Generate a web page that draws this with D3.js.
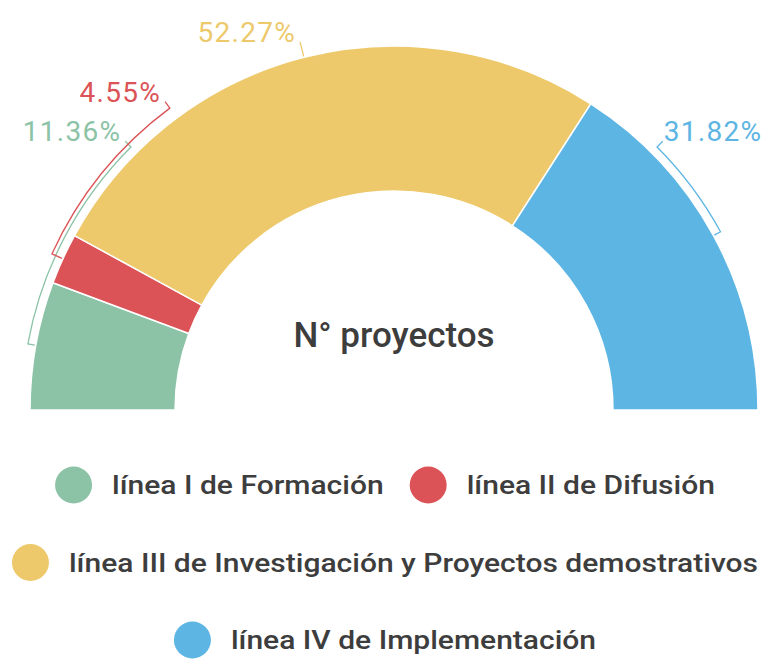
<!DOCTYPE html>
<html>
<head>
<meta charset="utf-8">
<script src="https://cdn.jsdelivr.net/npm/d3@7"></script>
<style>
  body { margin: 0; background: #fff; }
  svg { display: block; font-family: Roboto, "Noto Sans", sans-serif; }
</style>
</head>
<body>
<div id="chart"></div>
<script>
const categories = [
  'línea I de Formación',
  'línea II de Difusión',
  'línea III de Investigación y Proyectos demostrativos',
  'línea IV de Implementación'
];
const proyectos = [5, 2, 23, 14];
const colors = ['#8cc3a6', '#db5356', '#edc96b', '#5db5e3'];
const centerTitle = 'N° proyectos';

const width = 776, height = 659;
const cx = 394, cy = 410;
const outerR = 364, innerR = 219;

const svg = d3.select('#chart').append('svg')
  .attr('width', width)
  .attr('height', height);

const total = d3.sum(proyectos);
const data = categories.map((c, i) => ({ name: c, value: proyectos[i], color: colors[i] }));

const pie = d3.pie().value(d => d.value).sort(null)
  .startAngle(-Math.PI / 2).endAngle(Math.PI / 2);
const arc = d3.arc().innerRadius(innerR).outerRadius(outerR);
const arcs = pie(data);

const g = svg.append('g').attr('transform', `translate(${cx},${cy})`);

g.selectAll('path.slice')
  .data(arcs)
  .join('path')
  .attr('class', 'slice')
  .attr('d', arc)
  .attr('fill', d => d.data.color)
  .attr('stroke', '#fff')
  .attr('stroke-width', 1.5);

// label layout: theta measured in degrees from the left horizontal, over the top
const toDeg = a => a * 180 / Math.PI + 90;
const labels = arcs.map(d => {
  const mid = toDeg((d.startAngle + d.endAngle) / 2);
  return { d, mid, pos: mid <= 90 ? Math.max(mid, 45) : Math.min(mid, 135), left: mid <= 90 };
});
const minGap = 8.4;
const leftSide = labels.filter(l => l.left).sort((a, b) => a.pos - b.pos);
leftSide.forEach((l, i) => { if (i > 0) l.pos = Math.max(l.pos, leftSide[i - 1].pos + minGap); });
const rightSide = labels.filter(l => !l.left).sort((a, b) => b.pos - a.pos);
rightSide.forEach((l, i) => { if (i > 0) l.pos = Math.min(l.pos, rightSide[i - 1].pos - minGap); });

// bracket radius: step outward when the bracket overlaps an earlier one on the same side
[leftSide, rightSide].forEach(side => {
  side.forEach((l, i) => {
    l.rb = outerR + 8;
    for (let j = 0; j < i; j++) {
      const p = side[j];
      const lo = Math.min(l.mid, l.pos), hi = Math.max(l.mid, l.pos);
      const plo = Math.min(p.mid, p.pos), phi = Math.max(p.mid, p.pos);
      if (lo < phi && plo < hi) l.rb = Math.max(l.rb, p.rb + 4);
    }
  });
});

const pt = (theta, r) => {
  const t = theta * Math.PI / 180;
  return [-r * Math.cos(t), -r * Math.sin(t)];
};

const fmt = d3.format('.2%');

labels.forEach(l => {
  const c = l.d.data.color;
  const p = d3.path();
  const s = pt(l.mid, outerR + 1);
  const m = pt(l.mid, l.rb);
  p.moveTo(s[0], s[1]);
  p.lineTo(m[0], m[1]);
  const a0 = Math.PI + l.mid * Math.PI / 180;
  const a1 = Math.PI + l.pos * Math.PI / 180;
  if (Math.abs(a1 - a0) > 1e-6) p.arc(0, 0, l.rb, a0, a1, a1 < a0);
  const e = pt(l.pos, l.rb + 8);
  p.lineTo(e[0], e[1]);

  g.append('path')
    .attr('d', p.toString())
    .attr('fill', 'none')
    .attr('stroke', c)
    .attr('stroke-width', 1.3);

  g.append('text')
    .attr('x', l.left ? e[0] - 4 : e[0] + 1)
    .attr('y', e[1])
    .attr('text-anchor', l.left ? 'end' : 'start')
    .attr('fill', c)
    .style('font-size', '28px')
    .style('letter-spacing', '1.3px')
    .text(fmt(l.d.data.value / total));
});

g.append('text')
  .attr('x', 0)
  .attr('y', -63)
  .attr('text-anchor', 'middle')
  .attr('fill', '#3d3d3d')
  .style('font-size', '35px')
  .style('font-weight', 500)
  .text(centerTitle);

// legend: centered rows that wrap
const legendCx = 385, rowY0 = 485, rowStep = 77.5, maxRow = 765;
const dotR = 18.5, dotGap = 20, itemGap = 26, stretch = 1.155;
const legend = svg.append('g');
const items = data.map(d => {
  const it = legend.append('g');
  it.append('circle').attr('r', dotR).attr('cx', dotR).attr('fill', d.color);
  const t = it.append('text')
    .attr('transform', `translate(${dotR * 2 + dotGap},0) scale(${stretch},1)`)
    .attr('dy', '0.35em')
    .attr('fill', '#3d3d3d')
    .style('font-size', '26px')
    .style('font-weight', 500)
    .text(d.name);
  return { it, w: dotR * 2 + dotGap + t.node().getComputedTextLength() * stretch };
});
const rows = [];
items.forEach(item => {
  const row = rows[rows.length - 1];
  if (row && row.w + itemGap + item.w <= maxRow) {
    row.items.push(item);
    row.w += itemGap + item.w;
  } else {
    rows.push({ items: [item], w: item.w });
  }
});
rows.forEach((row, r) => {
  let x = legendCx - row.w / 2;
  row.items.forEach(item => {
    item.it.attr('transform', `translate(${x},${rowY0 + r * rowStep})`);
    x += item.w + itemGap;
  });
});
</script>
</body>
</html>
